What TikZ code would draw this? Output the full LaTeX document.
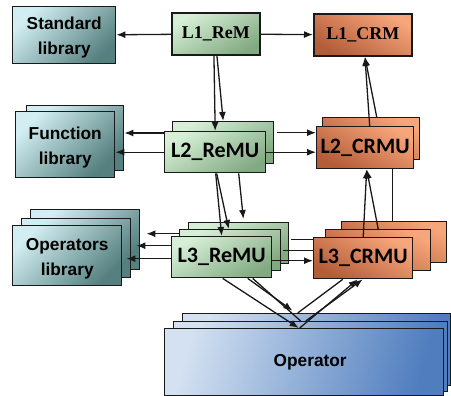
\documentclass[tikz,border=0pt]{standalone}
\usepackage{fontspec}
\setmainfont{Liberation Sans}
\newfontfamily\calibf{Carlito}
\newfontfamily\timesf{Liberation Serif}
\usetikzlibrary{arrows.meta,calc}
\definecolor{libL}{HTML}{D2EEF2}
\definecolor{libD}{HTML}{56807F}
\definecolor{grnL}{HTML}{D6EFD6}
\definecolor{grnD}{HTML}{82AA82}
\definecolor{orL}{HTML}{F7A57A}
\definecolor{orD}{HTML}{B35C38}
\definecolor{blL}{HTML}{D3E1F1}
\definecolor{blD}{HTML}{4F7DBE}
\begin{document}
\begin{tikzpicture}[x=1pt,y=-1pt,
  box/.style={draw=black!90, line width=1.4pt, anchor=north west, inner sep=0pt, align=center},
  lib/.style={box, top color=libL, bottom color=libD, shading angle=45,
    font=\bfseries\fontsize{17.3}{25}\selectfont},
  grn/.style={box, top color=grnL, bottom color=grnD, shading angle=30,
    font=\calibf\bfseries\fontsize{22}{24}\selectfont},
  org/.style={box, top color=orL, bottom color=orD, shading angle=-30,
    font=\calibf\bfseries\fontsize{22}{24}\selectfont},
  lone/.style={line width=1.9pt, font=\timesf\bfseries\fontsize{18}{20}\selectfont},
  opbox/.style={box, top color=blL, bottom color=blD, shading angle=75,
    font=\bfseries\fontsize{17.3}{22}\selectfont},
  arr/.style={line width=1.3pt, draw=black!90, -{Latex[length=9pt,width=7pt]}},
  ln/.style={line width=1.3pt, draw=black!90}
]
\useasboundingbox (0,0) rectangle (451,396);

% libraries
\node[lib, minimum width=103pt, minimum height=57pt] (stdlib) at (12,6) {\rule{0pt}{18pt}Standard\\library};
\node[lib, minimum width=97pt, minimum height=65pt] (funcb) at (26,105) {};
\node[lib, minimum width=99pt, minimum height=66pt] (funcf) at (15,111) {\rule{0pt}{18pt}Function\\library};
\node[lib, minimum width=109pt, minimum height=60pt] (oplb) at (30,209) {};
\node[lib, minimum width=109pt, minimum height=59pt] (oplm) at (21,218) {};
\node[lib, minimum width=109pt, minimum height=60pt] (oplf) at (12,225) {\rule{0pt}{18pt}Operators\\library};

% level 1
\node[grn, lone, minimum width=88pt, minimum height=42pt] (l1rem) at (171,12) {L1\_ReM};
\node[org, lone, minimum width=98pt, minimum height=42pt] (l1crm) at (313,13) {L1\_CRM};

% level 2
\node[grn, minimum width=101pt, minimum height=42pt] (l2remb) at (172,121) {};
\node[grn, minimum width=101pt, minimum height=41pt] (l2remf) at (164,131) {L2\_ReMU};
\node[org, minimum width=97pt, minimum height=42pt] (l2crmb) at (322,117) {};
\node[org, minimum width=97pt, minimum height=42pt] (l2crmf) at (316,126) {L2\_CRMU};

% level 3
\node[grn, minimum width=100pt, minimum height=41pt] (l3remb) at (188,222) {};
\node[grn, minimum width=101pt, minimum height=41pt] (l3remm) at (179,229) {};
\node[grn, minimum width=100pt, minimum height=41pt] (l3remf) at (171,236) {L3\_ReMU};
\node[org, minimum width=105pt, minimum height=41pt] (l3crmb) at (341,221) {};
\node[org, minimum width=105pt, minimum height=41pt] (l3crmm) at (325,229) {};
\node[org, minimum width=99pt, minimum height=41pt] (l3crmf) at (313,237) {L3\_CRMU};

% operator
\node[opbox, minimum width=268pt, minimum height=72pt] (opb) at (182,313) {};
\node[opbox, minimum width=274pt, minimum height=70pt] (opm) at (173,321) {};
\node[opbox, minimum width=279pt, minimum height=67pt] (opf) at (164,328) {\hspace*{12pt}Operator};

% level 1 connectors
\draw[arr] (l1rem) -- (stdlib);
\draw[arr] (l1rem) -- (l1crm);
\draw[arr] ([xshift=-2pt]l1rem.south) -- (l2remf.north);
\draw[arr] ([xshift=1pt]l1rem.south) -- (l2remb.north);

% level 2 connectors
\coordinate (a1) at ([yshift=-2pt]l2remf.north west);
\draw[arr] (a1) -- (a1 -| funcb.east);
\draw[arr] (l2remf.west) -- (l2remf.west -| funcf.east);
\coordinate (c1) at ([xshift=3pt,yshift=10pt]l2remb.east);
\draw[arr] (c1) -- (c1 -| l2crmf.west);
\draw[arr] (l2remf.east) -- (l2remf.east -| l2crmf.west);
\draw[arr] ([xshift=4.5pt]l2crmf.north) -- ([xshift=2pt]l1crm.south);
\draw[arr] ([xshift=5.5pt]l2crmb.north) -- ([xshift=2pt]l1crm.south);

% level 2 -> level 3
\draw[arr] ([xshift=0.5pt]l2remf.south) -- (l3remf.north);
\draw[arr] ([xshift=1.5pt]l2remf.south) -- ([xshift=-1.5pt]l3remm.north);
\draw[arr, shorten >=3pt] ([xshift=23.5pt]l2remf.south) -- ([xshift=5pt]l3remb.north);

% level 3 connectors
\coordinate (e1) at ([yshift=16.5pt]l3remm.west);
\coordinate (e2) at ([yshift=11.5pt]l3remf.west);
\coordinate (e3) at ([yshift=-1.5pt]l3remf.west);
\draw[arr, shorten >=6pt] (e1) -- (e1 -| oplb.east);
\draw[arr, shorten >=5pt] (e2) -- (e2 -| oplm.east);
\draw[arr, shorten >=4pt] (e3) -- (e3 -| oplf.east);
\coordinate (f1) at ([xshift=2pt,yshift=3.5pt]l3remb.east);
\coordinate (f2) at ([xshift=2pt]l3remm.east);
\coordinate (f3) at ([yshift=-3.5pt]l3remf.east);
\draw[ln] (f1) -- (f1 -| l3crmf.west);
\draw[ln] (f2) -- (f2 -| l3crmf.west);
\draw[arr] (f3) -- (f3 -| l3crmf.west);
\draw[arr] (l3crmf.north) -- ([xshift=1.5pt]l2crmf.south);
\draw[arr] (l3crmm.north) -- ([xshift=1.5pt]l2crmf.south);
\draw[ln] ([xshift=-1.5pt]l3crmb.north) -- ([xshift=27.5pt]l2crmf.south);

% level 3 <-> operator
\draw[arr] ([xshift=1pt]l3remf.south) -- ([xshift=-5.5pt]opf.north);
\draw[arr, shorten >=4pt] ([xshift=26pt]l3remf.south) -- ([xshift=-21pt]opb.north);
\draw[ln] ([xshift=31pt]l3remf.south) -- ([xshift=-10pt]opm.north);
\draw[ln] ([xshift=-20.5pt]l3crmf.south) -- ([xshift=-19pt]opb.north);
\draw[arr] ([xshift=-4.5pt]opf.north) -- ([xshift=-5.5pt]l3crmf.south);
\draw[arr] ([xshift=-5pt]opm.north) -- ([xshift=-0.5pt]l3crmf.south);
\end{tikzpicture}
\end{document}
